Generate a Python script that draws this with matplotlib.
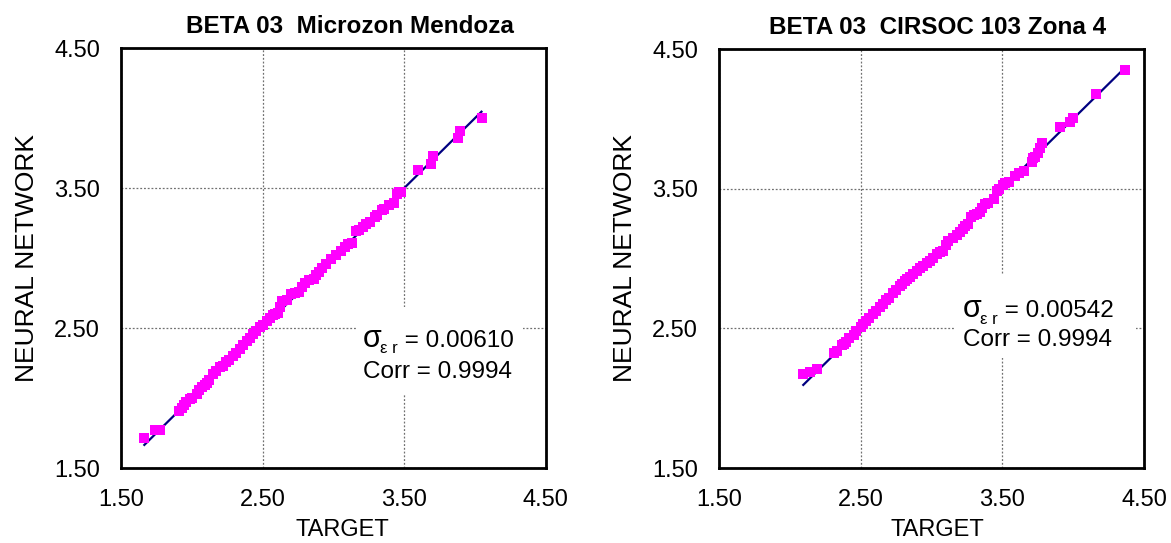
import numpy as np
import matplotlib.pyplot as plt
from matplotlib.patches import Rectangle

plt.rcParams['font.family'] = ['Liberation Sans', 'DejaVu Sans']

# Data
mendoza_target = [1.665, 1.74, 1.775, 1.91, 1.93, 1.947, 1.96, 1.987, 2.00, 2.034,
                  2.05, 2.07, 2.09, 2.105, 2.12, 2.15, 2.17, 2.20, 2.22, 2.245,
                  2.26, 2.29, 2.31, 2.34, 2.36, 2.39, 2.41, 2.43, 2.45, 2.48,
                  2.50, 2.53, 2.55, 2.575, 2.59, 2.61, 2.62, 2.64, 2.67, 2.70,
                  2.73, 2.76, 2.78, 2.80, 2.83, 2.86, 2.88, 2.90, 2.92, 2.95,
                  2.98, 3.02, 3.05, 3.08, 3.10, 3.13, 3.16, 3.18, 3.21, 3.23,
                  3.26, 3.29, 3.31, 3.34, 3.36, 3.39, 3.43, 3.45, 3.46, 3.48,
                  3.60, 3.69, 3.70, 3.88, 3.89, 4.05]
mendoza_nn = [1.717, 1.775, 1.775, 1.91, 1.93, 1.948, 1.97, 1.995, 2.00, 2.03,
              2.06, 2.08, 2.09, 2.107, 2.13, 2.17, 2.19, 2.22, 2.23, 2.257,
              2.27, 2.30, 2.32, 2.35, 2.38, 2.41, 2.43, 2.46, 2.48, 2.51,
              2.52, 2.55, 2.57, 2.59, 2.60, 2.61, 2.65, 2.69, 2.70, 2.745,
              2.75, 2.76, 2.79, 2.82, 2.84, 2.85, 2.88, 2.90, 2.93, 2.96,
              2.99, 3.02, 3.05, 3.08, 3.10, 3.11, 3.19, 3.20, 3.22, 3.24,
              3.26, 3.29, 3.31, 3.34, 3.35, 3.38, 3.39, 3.46, 3.47, 3.47,
              3.63, 3.67, 3.73, 3.86, 3.91, 4.00]
mendoza_line = [1.665, 4.045]

cirsoc_target = [2.095, 2.14, 2.19, 2.31, 2.33, 2.365, 2.38, 2.40, 2.42, 2.45,
                 2.47, 2.50, 2.52, 2.54, 2.56, 2.59, 2.61, 2.64, 2.66, 2.68,
                 2.70, 2.73, 2.75, 2.78, 2.795, 2.81, 2.83, 2.85, 2.87, 2.895,
                 2.92, 2.94, 2.965, 2.99, 3.01, 3.04, 3.06, 3.08, 3.10, 3.12,
                 3.15, 3.18, 3.20, 3.22, 3.24, 3.26, 3.28, 3.30, 3.32, 3.34,
                 3.36, 3.38, 3.40, 3.44, 3.46, 3.48, 3.505, 3.52, 3.55, 3.59,
                 3.62, 3.65, 3.71, 3.72, 3.73, 3.755, 3.765, 3.78, 3.91, 3.98,
                 4.00, 4.165, 4.366]
cirsoc_nn = [2.17, 2.19, 2.21, 2.32, 2.34, 2.38, 2.39, 2.40, 2.43, 2.45,
             2.48, 2.51, 2.53, 2.555, 2.575, 2.60, 2.625, 2.65, 2.675, 2.70,
             2.72, 2.75, 2.775, 2.80, 2.82, 2.84, 2.855, 2.87, 2.89, 2.91,
             2.93, 2.95, 2.965, 2.98, 3.005, 3.03, 3.05, 3.055, 3.10, 3.125,
             3.15, 3.17, 3.19, 3.21, 3.23, 3.245, 3.30, 3.31, 3.32, 3.33,
             3.36, 3.39, 3.40, 3.425, 3.48, 3.50, 3.53, 3.54, 3.545, 3.59,
             3.61, 3.63, 3.69, 3.72, 3.73, 3.755, 3.79, 3.83, 3.94, 3.975,
             4.005, 4.18, 4.35]
cirsoc_line = [2.095, 4.36]

titles = ["BETA 03  Microzon Mendoza", "BETA 03  CIRSOC 103 Zona 4"]
sigmas = ["0.00610", "0.00542"]
corrs = ["0.9994", "0.9994"]
ticks = [1.5, 2.5, 3.5, 4.5]

fig = plt.figure(figsize=(11.71, 5.43), dpi=100)
ax1 = fig.add_axes([0.1033, 0.1381, 0.3629, 0.7735])
ax2 = fig.add_axes([0.614, 0.1381, 0.3629, 0.7716])

panels = [
    (ax1, mendoza_target, mendoza_nn, mendoza_line),
    (ax2, cirsoc_target, cirsoc_nn, cirsoc_line),
]
# placement of title / label / stats box for each panel
title_x = [0.539, 0.515]
label_x = [0.52, 0.515]
box = [(3.166, 2.02, 1.17, 0.63), (3.166, 2.29, 1.28, 0.59)]
stat_pos = [(3.208, 2.364, 2.143), (3.222, 2.579, 2.371)]

for i, (ax, tx, ny, ln) in enumerate(panels):
    ax.set_xlim(1.5, 4.5)
    ax.set_ylim(1.5, 4.5)
    ax.set_xticks(ticks)
    ax.set_yticks(ticks)
    ax.set_xticklabels(["%.2f" % t for t in ticks])
    ax.set_yticklabels(["%.2f" % t for t in ticks])
    ax.tick_params(length=0, labelsize=17, pad=15)
    ax.grid(True, color='#707070', linestyle=(0, (1.5, 1.5)), linewidth=0.9)
    ax.set_axisbelow(True)
    for s in ax.spines.values():
        s.set_linewidth(2)

    ax.plot(ln, ln, color='#000080', linewidth=1.6, zorder=2)
    ax.plot(tx, ny, 's', color='#FF00FF', markersize=7.5, markeredgewidth=0, zorder=3)

    ax.set_title(titles[i], fontsize=17.5, fontweight='bold', pad=11, x=title_x[i])
    ax.set_xlabel("TARGET", fontsize=17, labelpad=6, x=label_x[i])
    ax.set_ylabel("NEURAL NETWORK", fontsize=19, labelpad=11)

    # white box behind the statistics
    bx, by, bw, bh = box[i]
    ax.add_patch(Rectangle((bx, by), bw, bh, facecolor='white', edgecolor='none', zorder=1))

    sx, sy1, sy2 = stat_pos[i]
    t1 = ax.text(sx, sy1, "σ", fontsize=22, va='baseline', ha='left', zorder=4)
    t2 = ax.annotate("ε r", xy=(1, sy1), xycoords=(t1, 'data'),
                     xytext=(-1, -4.5), textcoords='offset points',
                     fontsize=12, va='baseline', ha='left', zorder=4)
    ax.annotate(" = " + sigmas[i], xy=(1, sy1), xycoords=(t2, 'data'),
                fontsize=17.5, va='baseline', ha='left', zorder=4)
    ax.text(sx, sy2, "Corr = " + corrs[i], fontsize=17.5, va='baseline', ha='left', zorder=4)

fig.savefig("out.png", dpi=100)
